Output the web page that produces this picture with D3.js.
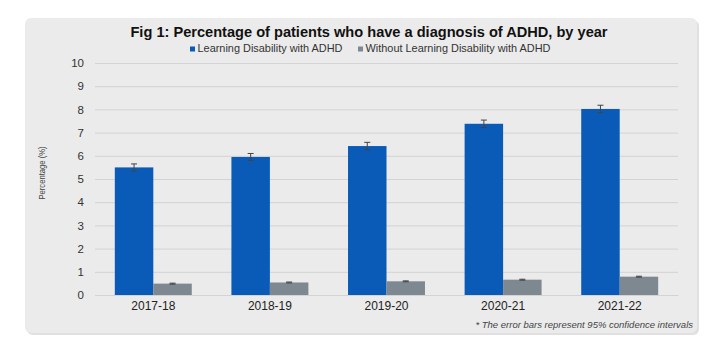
<!DOCTYPE html>
<html>
<head>
<meta charset="utf-8">
<script src="https://cdn.jsdelivr.net/npm/d3@7"></script>
<style>
  body { margin: 0; background: #fff; font-family: "Liberation Sans", Arial, sans-serif; }
</style>
</head>
<body>
<svg width="723" height="345"></svg>
<script>
// data
const years = ['2017-18', '2018-19', '2019-20', '2020-21', '2021-22'];
const seriesNames = ['Learning Disability with ADHD', 'Without Learning Disability with ADHD'];
const ldValues = [5.5, 5.95, 6.42, 7.38, 8.02];
const ldErr = [0.15, 0.15, 0.16, 0.16, 0.16];
const noLdValues = [0.49, 0.54, 0.59, 0.66, 0.79];
const noLdErr = [0.02, 0.02, 0.02, 0.02, 0.02];
const yTicks = [0, 1, 2, 3, 4, 5, 6, 7, 8, 9, 10];

const colors = ['#0a5bb8', '#7d8891'];

const svg = d3.select('svg');

// grey panel (with a faint shadow)
svg.append('rect')
    .attr('x', 27).attr('y', 20)
    .attr('width', 672).attr('height', 315)
    .attr('rx', 6)
    .attr('fill', '#e0e0e0');
svg.append('rect')
    .attr('x', 25).attr('y', 18)
    .attr('width', 672).attr('height', 315)
    .attr('rx', 6)
    .attr('fill', '#ebebeb');

const x0 = d3.scaleBand().domain(years).range([95, 678]).paddingInner(0.34).paddingOuter(0.17);
const x1 = d3.scaleBand().domain([0, 1]).range([0, x0.bandwidth()]);
const y = d3.scaleLinear().domain([0, 10]).range([295, 63]);

// grid lines
svg.append('g')
    .attr('transform', 'translate(95,0)')
    .call(d3.axisLeft(y).tickValues(yTicks).tickSize(-583).tickFormat(''))
    .call(g => g.select('.domain').remove())
    .call(g => g.selectAll('line').attr('stroke', '#d3d3d3'));

// y tick labels
svg.append('g')
    .attr('transform', 'translate(84,0)')
    .call(d3.axisLeft(y).tickValues(yTicks).tickSize(0).tickPadding(0))
    .call(g => g.select('.domain').remove())
    .call(g => g.selectAll('text').attr('font-size', 11.5).attr('fill', '#333').attr('font-family', 'Liberation Sans, Arial'));

// x labels
svg.append('g')
    .attr('transform', 'translate(0,295)')
    .call(d3.axisBottom(x0).tickSize(0).tickPadding(6))
    .call(g => g.select('.domain').attr('stroke', '#d3d3d3'))
    .call(g => g.selectAll('text').attr('font-size', 12).attr('fill', '#222').attr('font-family', 'Liberation Sans, Arial'));

const rows = years.map((yr, i) => ({
    year: yr,
    vals: [
        {s: 0, v: ldValues[i], e: ldErr[i]},
        {s: 1, v: noLdValues[i], e: noLdErr[i]}
    ]
}));

const groups = svg.append('g').selectAll('g')
    .data(rows).enter().append('g')
    .attr('transform', d => `translate(${x0(d.year)},0)`);

groups.selectAll('rect')
    .data(d => d.vals).enter().append('rect')
    .attr('x', d => x1(d.s))
    .attr('y', d => y(d.v))
    .attr('width', x1.bandwidth())
    .attr('height', d => y(0) - y(d.v))
    .attr('fill', d => colors[d.s]);

// error bars
const err = groups.selectAll('g.err')
    .data(d => d.vals).enter().append('g')
    .attr('class', 'err')
    .attr('stroke', '#444')
    .attr('stroke-width', 1);
err.append('line')
    .attr('x1', d => x1(d.s) + x1.bandwidth() / 2)
    .attr('x2', d => x1(d.s) + x1.bandwidth() / 2)
    .attr('y1', d => y(d.v + d.e))
    .attr('y2', d => y(d.v - d.e));
err.append('line')
    .attr('x1', d => x1(d.s) + x1.bandwidth() / 2 - 3)
    .attr('x2', d => x1(d.s) + x1.bandwidth() / 2 + 3)
    .attr('y1', d => y(d.v + d.e))
    .attr('y2', d => y(d.v + d.e));
err.append('line')
    .attr('x1', d => x1(d.s) + x1.bandwidth() / 2 - 3)
    .attr('x2', d => x1(d.s) + x1.bandwidth() / 2 + 3)
    .attr('y1', d => y(d.v - d.e))
    .attr('y2', d => y(d.v - d.e));

// title
svg.append('text')
    .attr('x', 369).attr('y', 37)
    .attr('text-anchor', 'middle')
    .attr('font-size', 14.6).attr('font-weight', 'bold')
    .attr('fill', '#111')
    .text('Fig 1: Percentage of patients who have a diagnosis of ADHD, by year');

// legend
const legendX = [190, 358];
const legendW = [145, 185];
const leg = svg.append('g').selectAll('g')
    .data(seriesNames).enter().append('g')
    .attr('transform', (d, i) => `translate(${legendX[i]},44)`);
leg.append('rect').attr('width', 5).attr('height', 5).attr('y', 2.5).attr('fill', (d, i) => colors[i]);
leg.append('text')
    .attr('x', 7.5).attr('y', 8)
    .attr('font-size', 10.5).attr('fill', '#333')
    .attr('textLength', (d, i) => legendW[i])
    .attr('lengthAdjust', 'spacingAndGlyphs')
    .text(d => d);

// y axis title
svg.append('text')
    .attr('transform', 'translate(45,173) rotate(-90) scale(0.85,1)')
    .attr('text-anchor', 'middle')
    .attr('font-size', 9).attr('fill', '#444')
    .text('Percentage (%)');

// footnote
svg.append('text')
    .attr('x', 693).attr('y', 328)
    .attr('text-anchor', 'end')
    .attr('font-size', 9.5).attr('font-style', 'italic')
    .attr('fill', '#444')
    .text('* The error bars represent 95% confidence intervals');
</script>
</body>
</html>
